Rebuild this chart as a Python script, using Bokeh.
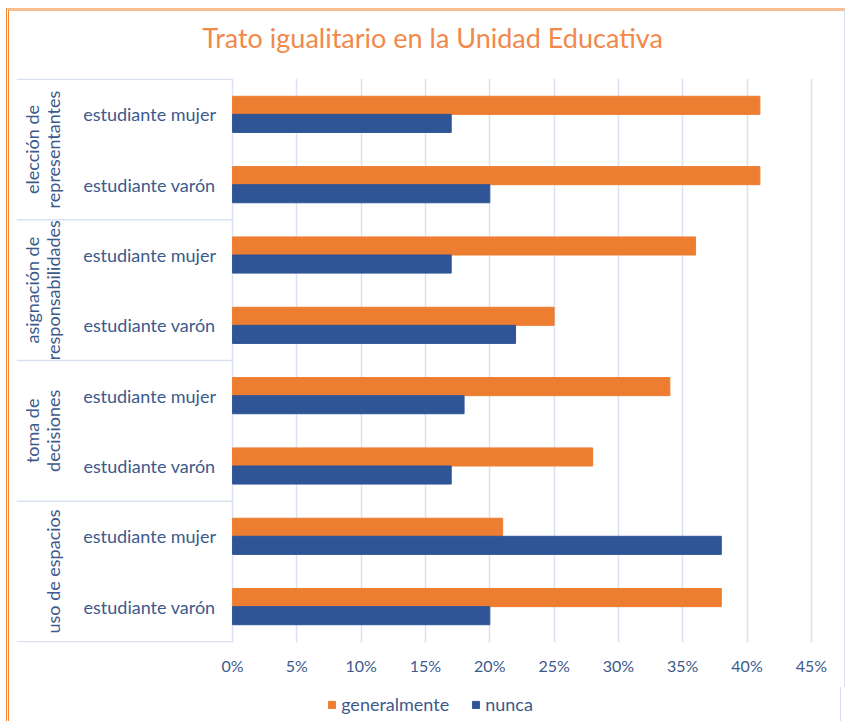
import math
from bokeh.plotting import figure
from bokeh.layouts import column
from bokeh.models import (ColumnDataSource, Range1d, FixedTicker, NumeralTickFormatter,
                          Legend, LegendItem, Title)
from bokeh.transform import dodge
from bokeh.core.properties import value
from bokeh.embed import file_html
from bokeh.resources import INLINE

# ---------------- data ----------------
title_text = "Trato igualitario en la Unidad Educativa"
group_lines = [["elección de", "representantes"],
               ["asignación de", "responsabilidades"],
               ["toma de", "decisiones"],
               ["uso de espacios"]]
sub_labels = ["estudiante mujer", "estudiante varón"]
series_names = ["generalmente", "nunca"]
generalmente = [0.41, 0.41, 0.36, 0.25, 0.34, 0.28, 0.21, 0.38]
nunca = [0.17, 0.20, 0.17, 0.22, 0.18, 0.17, 0.38, 0.20]
x_ticks = [0.0, 0.05, 0.10, 0.15, 0.20, 0.25, 0.30, 0.35, 0.40, 0.45]

# ---------------- style ----------------
FONT = "Lato"
TEXT = "#3D5A8C"
ORANGE = "#ED7D31"
BLUE = "#2F5597"
GRID = "#D9E1F2"
TITLE_COLOR = "#F0894B"
SERIES_COLORS = [ORANGE, BLUE]

n_sub = len(sub_labels)
n_cat = len(generalmente)
pos = [i + 0.5 for i in range(n_cat)]
src = ColumnDataSource(dict(
    pos=pos,
    gen=generalmente,
    nun=nunca,
    sub=[sub_labels[i % n_sub] for i in range(n_cat)],
))

p = figure(frame_width=828, frame_height=561,
           x_range=Range1d(-0.168, 0.4789),
           y_range=Range1d(n_cat + 0.01, -0.01),
           output_backend="svg", toolbar_location=None,
           y_axis_location=None, title=None,
           min_border_left=7, min_border_right=0,
           min_border_top=67, min_border_bottom=48,
           margin=(8, 0, 0, 6))
p.styles = {"border-top": "3px solid #F9BD92",
            "border-left": "3px double #F4832F",
            "border-right": "1px solid #D6DEEE"}
p.outline_line_color = None
p.background_fill_color = "white"
p.border_fill_color = "white"

bar_h = 0.257
r_gen = p.hbar(y=dodge("pos", -bar_h / 2, range=p.y_range), left=0, right="gen",
               height=bar_h, fill_color=ORANGE, line_color=ORANGE, source=src)
r_nun = p.hbar(y=dodge("pos", bar_h / 2, range=p.y_range), left=0, right="nun",
               height=bar_h, fill_color=BLUE, line_color=BLUE, source=src)

# sub-category labels
p.text(x=0, y="pos", text="sub", source=src, x_offset=-83,
       text_align="center", text_baseline="middle",
       text_font=value(FONT), text_font_size="18px", text_color=TEXT)

# group labels (rotated, possibly two lines)
gx, gy, gt, goff = [], [], [], []
for g, lines in enumerate(group_lines):
    k = len(lines)
    for j, ln in enumerate(lines):
        gx.append(0)
        gy.append(g * n_sub + n_sub / 2)
        gt.append(ln)
        goff.append(-180 - 21 * (k - 1 - j))
gsrc = ColumnDataSource(dict(x=gx, y=gy, t=gt, off=goff))
p.text(x="x", y="y", text="t", x_offset="off", source=gsrc, angle=math.pi / 2,
       text_align="center", text_baseline="middle",
       text_font=value(FONT), text_font_size="18px", text_color=TEXT)

# group separator lines
bounds = [g * n_sub for g in range(len(group_lines) + 1)]
p.segment(x0=[p.x_range.start] * len(bounds), x1=[0] * len(bounds),
          y0=bounds, y1=bounds, line_color=GRID, line_width=1.5)

# axes & grid
ticker = FixedTicker(ticks=x_ticks)
p.xaxis.ticker = ticker
p.xgrid.ticker = ticker
p.xaxis.formatter = NumeralTickFormatter(format="0%")
p.xgrid.grid_line_color = GRID
p.xgrid.grid_line_width = 1.5
p.ygrid.visible = False
p.xaxis.axis_line_color = None
p.xaxis.major_tick_line_color = None
p.xaxis.minor_tick_line_color = None
p.xaxis.major_tick_out = 0
p.xaxis.major_label_standoff = 13
p.xaxis.major_label_text_font = FONT
p.xaxis.major_label_text_font_size = "16px"
p.xaxis.major_label_text_color = TEXT

# title (a blank spacer title sits between the real title and the frame)
spacer = Title(text=" ", text_font_size="10px", standoff=12)
p.add_layout(spacer, "above")
main_title = Title(text=title_text, align="center", standoff=0,
                   text_font=FONT, text_font_size="27px", text_font_style="normal",
                   text_color=TITLE_COLOR)
p.add_layout(main_title, "above")

# legend in a thin strip below the chart (its bars lie outside its ranges)
p2 = figure(width=835, height=34, output_backend="svg", toolbar_location=None,
            x_range=Range1d(10, 11), y_range=Range1d(10, 11),
            x_axis_location=None, y_axis_location=None,
            min_border=0, margin=(0, 0, 0, 6))
p2.styles = {"border-left": "3px double #F4832F",
             "border-right": "1px solid #D6DEEE"}
p2.outline_line_color = None
p2.xgrid.visible = False
p2.ygrid.visible = False
lg_r = [p2.hbar(y="pos", right=col, left=0, height=bar_h,
                fill_color=c, line_color=c, source=src)
        for col, c in zip(["gen", "nun"], SERIES_COLORS)]
legend = Legend(items=[LegendItem(label=name, renderers=[r])
                       for name, r in zip(series_names, lg_r)],
                orientation="horizontal", location="center",
                glyph_width=9, glyph_height=9, label_standoff=5, spacing=22,
                margin=0, padding=0, border_line_color=None,
                background_fill_alpha=0,
                label_text_font=FONT, label_text_font_size="18px",
                label_text_color=TEXT)
p2.add_layout(legend, "center")

layout = column(p, p2, spacing=0)
open("out.html", "w").write(file_html(layout, INLINE))
